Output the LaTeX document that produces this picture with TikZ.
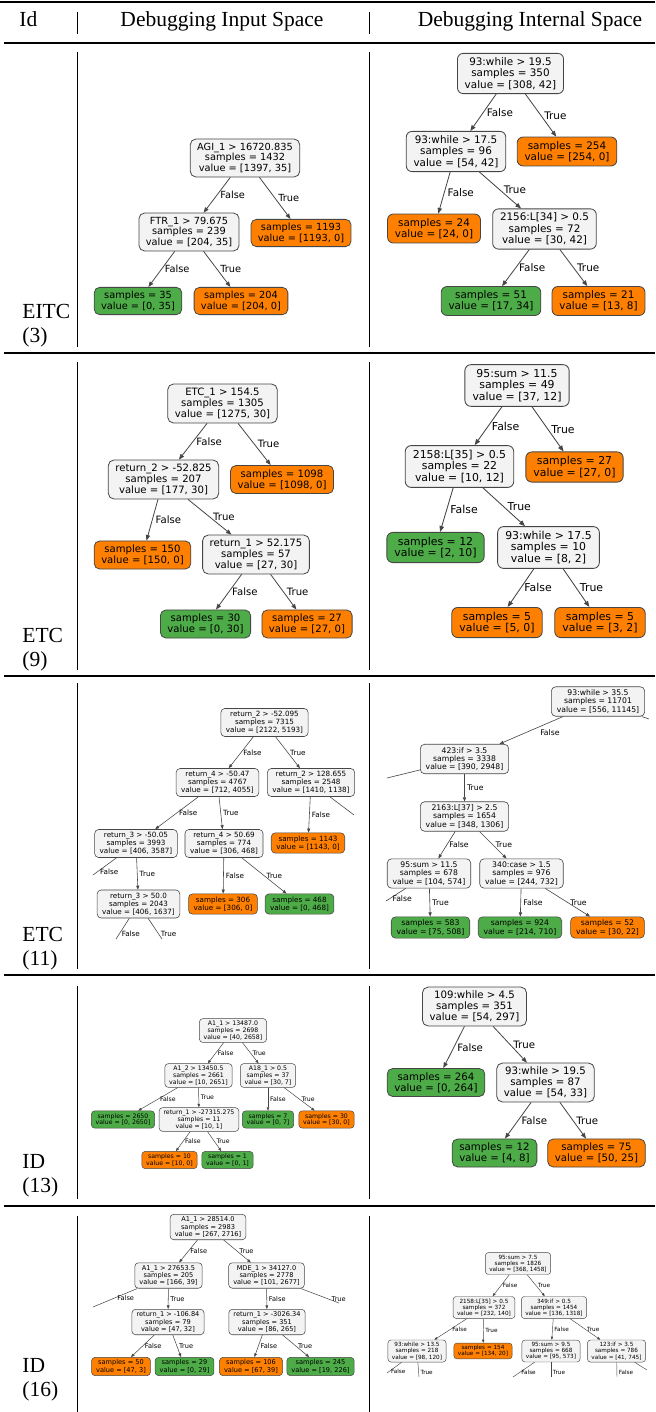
\documentclass[tikz,border=0pt]{standalone}
\usepackage{fontspec}
\setmainfont{Liberation Serif}
\newfontfamily\treefam{DejaVu Sans}
\usetikzlibrary{arrows.meta}
\definecolor{splitfill}{RGB}{243,243,243}
\definecolor{leaforange}{RGB}{255,128,0}
\definecolor{leafgreen}{RGB}{78,172,72}
\definecolor{boxline}{RGB}{70,70,70}
\newcommand\treefont[2]{\treefam\fontsize{#1}{#2}\selectfont}
\newcommand\cellfont{\fontsize{10.75}{12}\selectfont}
\tikzset{
  tree/.style 2 args={execute at begin scope={\treefont{#1}{#2}}},
  split/.style={draw=boxline, fill=splitfill, line width=0.08em, rounded corners=0.55em,
    align=center, inner xsep=0.7em, inner ysep=0.4em},
  leafo/.style={split, fill=leaforange},
  leafg/.style={split, fill=leafgreen},
  link/.style={draw=boxline, line width=0.08em, -{Triangle[length=0.55em, width=0.42em]}},
  cut/.style={draw=boxline, line width=0.08em},
  lbl/.style={anchor=west, inner sep=0.3em},
  rowid/.style={font=\cellfont, anchor=base west, align=left, inner sep=0pt},
  head/.style={font=\cellfont, anchor=base, inner sep=0pt},
  rule/.style={line width=0.55pt},
  bar/.style={line width=0.4pt}
}
\begin{document}
\begin{tikzpicture}[x=0.5pt, y=-0.5pt]
  \useasboundingbox (0,0) rectangle (655,1412);
  % table frame
  \draw[line width=1pt] (0,2) -- (655,2);
  \draw[rule] (4,43) -- (655,43);
  \foreach \y in {353,676,975,1206} \draw[rule] (4,\y) -- (655,\y);
  \foreach \x in {77,369} {
    \draw[bar] (\x,12) -- (\x,34);
    \draw[bar] (\x,52) -- (\x,347);
    \draw[bar] (\x,362) -- (\x,670);
    \draw[bar] (\x,683) -- (\x,969);
    \draw[bar] (\x,986) -- (\x,1199);
    \draw[bar] (\x,1216) -- (\x,1412);
  }
  \node[head, anchor=base west] (hid) at (19,27) {Id};
  \node[head] (hin) at (222,27) {Debugging Input Space};
  \node[head] (hint) at (530,27) {Debugging Internal Space};
  \node[rowid] (id1) at (22,342) {EITC\\(3)};
  \node[rowid] (id2) at (22,666) {ETC\\(9)};
  \node[rowid] (id3) at (22,965) {ETC\\(11)};
  \node[rowid] (id4) at (22,1192) {ID\\(13)};
  \node[rowid] (id5) at (22,1396) {ID\\(16)};

  % EITC (3), input space
  \begin{scope}[tree={4.9}{5.35}]
    \node[split] (a0) at (245,158) {AGI\_1 > 16720.835\\samples = 1432\\value = [1397, 35]};
    \node[split] (a1) at (189,232) {FTR\_1 > 79.675\\samples = 239\\value = [204, 35]};
    \node[leafo] (a2) at (301,233) {samples = 1193\\value = [1193, 0]};
    \node[leafg] (a3) at (138,301) {samples = 35\\value = [0, 35]};
    \node[leafo] (a4) at (241,301) {samples = 204\\value = [204, 0]};
    \draw[link] (a0) -- node[lbl] {False} (a1);
    \draw[link] (a0) -- node[lbl] {True} (a2);
    \draw[link] (a1) -- node[lbl] {False} (a3);
    \draw[link] (a1) -- node[lbl] {True} (a4);
  \end{scope}

  % EITC (3), internal space
  \begin{scope}[tree={5.2}{5.65}]
    \node[split] (b0) at (510.5,73.5) {93:while > 19.5\\samples = 350\\value = [308, 42]};
    \node[split] (b1) at (456,151.5) {93:while > 17.5\\samples = 96\\value = [54, 42]};
    \node[leafo] (b2) at (567,151.5) {samples = 254\\value = [254, 0]};
    \node[leafo] (b3) at (434,228.5) {samples = 24\\value = [24, 0]};
    \node[split] (b4) at (544.5,229) {2156:L[34] > 0.5\\samples = 72\\value = [30, 42]};
    \node[leafg] (b5) at (491,301) {samples = 51\\value = [17, 34]};
    \node[leafo] (b6) at (598.5,301) {samples = 21\\value = [13, 8]};
    \draw[link] (b0) -- node[lbl] {False} (b1);
    \draw[link] (b0) -- node[lbl] {True} (b2);
    \draw[link] (b1) -- node[lbl] {False} (b3);
    \draw[link] (b1) -- node[lbl] {True} (b4);
    \draw[link] (b4) -- node[lbl] {False} (b5);
    \draw[link] (b4) -- node[lbl] {True} (b6);
  \end{scope}

  % ETC (9), input space
  \begin{scope}[tree={5.05}{5.5}]
    \node[split] (c0) at (222.5,403.5) {ETC\_1 > 154.5\\samples = 1305\\value = [1275, 30]};
    \node[split] (c1) at (163.5,479.5) {return\_2 > -52.825\\samples = 207\\value = [177, 30]};
    \node[leafo] (c2) at (282,479.5) {samples = 1098\\value = [1098, 0]};
    \node[leafo] (c3) at (142.5,555) {samples = 150\\value = [150, 0]};
    \node[split] (c4) at (256,554.5) {return\_1 > 52.175\\samples = 57\\value = [27, 30]};
    \node[leafg] (c5) at (205.5,624) {samples = 30\\value = [0, 30]};
    \node[leafo] (c6) at (307,624) {samples = 27\\value = [27, 0]};
    \draw[link] (c0) -- node[lbl] {False} (c1);
    \draw[link] (c0) -- node[lbl] {True} (c2);
    \draw[link] (c1) -- node[lbl] {False} (c3);
    \draw[link] (c1) -- node[lbl] {True} (c4);
    \draw[link] (c4) -- node[lbl] {False} (c5);
    \draw[link] (c4) -- node[lbl] {True} (c6);
  \end{scope}

  % ETC (9), internal space
  \begin{scope}[tree={5.45}{5.85}]
    \node[split] (d0) at (517,385.5) {95:sum > 11.5\\samples = 49\\value = [37, 12]};
    \node[split] (d1) at (459.5,466.5) {2158:L[35] > 0.5\\samples = 22\\value = [10, 12]};
    \node[leafo] (d2) at (574.5,467) {samples = 27\\value = [27, 0]};
    \node[leafg] (d3) at (435.5,547.5) {samples = 12\\value = [2, 10]};
    \node[split] (d4) at (548.5,547.5) {93:while > 17.5\\samples = 10\\value = [8, 2]};
    \node[leafo] (d5) at (497,622.5) {samples = 5\\value = [5, 0]};
    \node[leafo] (d6) at (600,622.5) {samples = 5\\value = [3, 2]};
    \draw[link] (d0) -- node[lbl] {False} (d1);
    \draw[link] (d0) -- node[lbl] {True} (d2);
    \draw[link] (d1) -- node[lbl] {False} (d3);
    \draw[link] (d1) -- node[lbl] {True} (d4);
    \draw[link] (d4) -- node[lbl] {False} (d5);
    \draw[link] (d4) -- node[lbl] {True} (d6);
  \end{scope}

  % ETC (11), input space
  \begin{scope}[tree={3.6}{4.0}]
    \node[split] (e0) at (264.5,722.5) {return\_2 > -52.095\\samples = 7315\\value = [2122, 5193]};
    \node[split] (e1) at (217.5,782.5) {return\_4 > -50.47\\samples = 4767\\value = [712, 4055]};
    \node[split] (e2) at (311,782.5) {return\_2 > 128.655\\samples = 2548\\value = [1410, 1138]};
    \node[split] (e3) at (136,843.5) {return\_3 > -50.05\\samples = 3993\\value = [406, 3587]};
    \node[split] (e4) at (224,843.5) {return\_4 > 50.69\\samples = 774\\value = [306, 468]};
    \node[leafo] (e5) at (308,843) {samples = 1143\\value = [1143, 0]};
    \node[split] (e6) at (138.5,904) {return\_3 > 50.0\\samples = 2043\\value = [406, 1637]};
    \node[leafo] (e7) at (223,904) {samples = 306\\value = [306, 0]};
    \node[leafg] (e8) at (299.5,904) {samples = 468\\value = [0, 468]};
    \coordinate (ex1) at (354,815);
    \coordinate (ex2) at (93,875);
    \coordinate (ex3) at (116,939);
    \coordinate (ex4) at (162,939);
    \draw[link] (e0) -- node[lbl] {False} (e1);
    \draw[link] (e0) -- node[lbl] {True} (e2);
    \draw[link] (e1) -- node[lbl] {False} (e3);
    \draw[link] (e1) -- node[lbl] {True} (e4);
    \draw[link] (e2) -- node[lbl] {False} (e5);
    \draw[cut] (e2) -- (ex1);
    \draw[cut] (e3) -- node[lbl, pos=.8] {False} (ex2);
    \draw[link] (e3) -- node[lbl] {True} (e6);
    \draw[link] (e4) -- node[lbl] {False} (e7);
    \draw[link] (e4) -- node[lbl] {True} (e8);
    \draw[cut] (e6) -- node[lbl, pos=.75] {False} (ex3);
    \draw[cut] (e6) -- node[lbl, pos=.75] {True} (ex4);
  \end{scope}

  % ETC (11), internal space
  \begin{scope}[tree={3.85}{4.1}]
    \node[split] (f0) at (598,701.5) {93:while > 35.5\\samples = 11701\\value = [556, 11145]};
    \node[split] (f1) at (464.5,759) {423:if > 3.5\\samples = 3338\\value = [390, 2948]};
    \node[split] (f2) at (464.5,816.5) {2163:L[37] > 2.5\\samples = 1654\\value = [348, 1306]};
    \node[split] (f3) at (429,873.5) {95:sum > 11.5\\samples = 678\\value = [104, 574]};
    \node[split] (f4) at (521.5,873.5) {340:case > 1.5\\samples = 976\\value = [244, 732]};
    \node[leafg] (f5) at (430.5,927.5) {samples = 583\\value = [75, 508]};
    \node[leafg] (f6) at (520,927.5) {samples = 924\\value = [214, 710]};
    \node[leafo] (f7) at (607.5,927.5) {samples = 52\\value = [30, 22]};
    \coordinate (fx1) at (649,719);
    \coordinate (fx2) at (387,778);
    \coordinate (fx3) at (386,901);
    \draw[link] (f0) -- node[lbl, anchor=north west, pos=.4] {False} (f1);
    \draw[cut] (f0) -- (fx1);
    \draw[cut] (f1) -- (fx2);
    \draw[link] (f1) -- node[lbl] {True} (f2);
    \draw[link] (f2) -- node[lbl] {False} (f3);
    \draw[link] (f2) -- node[lbl] {True} (f4);
    \draw[cut] (f3) -- node[lbl, pos=.8] {False} (fx3);
    \draw[link] (f3) -- node[lbl] {True} (f5);
    \draw[link] (f4) -- node[lbl] {False} (f6);
    \draw[link] (f4) -- node[lbl] {True} (f7);
  \end{scope}

  % ID (13), input space
  \begin{scope}[tree={3.1}{3.35}]
    \node[split] (g0) at (233,1030.5) {A1\_1 > 13487.0\\samples = 2698\\value = [40, 2658]};
    \node[split] (g1) at (198.5,1075.5) {A1\_2 > 13450.5\\samples = 2661\\value = [10, 2651]};
    \node[split] (g2) at (268,1075.5) {A18\_1 > 0.5\\samples = 37\\value = [30, 7]};
    \node[leafg] (g3) at (123,1119.5) {samples = 2650\\value = [0, 2650]};
    \node[split] (g4) at (199,1119.5) {return\_1 > -27315.275\\samples = 11\\value = [10, 1]};
    \node[leafg] (g5) at (268,1119.5) {samples = 7\\value = [0, 7]};
    \node[leafo] (g6) at (326.5,1119.5) {samples = 30\\value = [30, 0]};
    \node[leafo] (g7) at (169.5,1160) {samples = 10\\value = [10, 0]};
    \node[leafg] (g8) at (227.5,1160) {samples = 1\\value = [0, 1]};
    \draw[link] (g0) -- node[lbl] {False} (g1);
    \draw[link] (g0) -- node[lbl] {True} (g2);
    \draw[link] (g1) -- node[lbl] {False} (g3);
    \draw[link] (g1) -- node[lbl] {True} (g4);
    \draw[link] (g2) -- node[lbl] {False} (g5);
    \draw[link] (g2) -- node[lbl] {True} (g6);
    \draw[link] (g4) -- node[lbl] {False} (g7);
    \draw[link] (g4) -- node[lbl] {True} (g8);
  \end{scope}

  % ID (13), internal space
  \begin{scope}[tree={5.1}{5.4}]
    \node[split] (h0) at (474.5,1006.5) {109:while > 4.5\\samples = 351\\value = [54, 297]};
    \node[leafg] (h1) at (436,1082.5) {samples = 264\\value = [0, 264]};
    \node[split] (h2) at (545.5,1082.5) {93:while > 19.5\\samples = 87\\value = [54, 33]};
    \node[leafg] (h3) at (494.5,1153) {samples = 12\\value = [4, 8]};
    \node[leafo] (h4) at (596.5,1153) {samples = 75\\value = [50, 25]};
    \draw[link] (h0) -- node[lbl] {False} (h1);
    \draw[link] (h0) -- node[lbl] {True} (h2);
    \draw[link] (h2) -- node[lbl] {False} (h3);
    \draw[link] (h2) -- node[lbl] {True} (h4);
  \end{scope}

  % ID (16), input space
  \begin{scope}[tree={3.3}{3.6}]
    \node[split] (i0) at (208,1227) {A1\_1 > 28514.0\\samples = 2983\\value = [267, 2716]};
    \node[split] (i1) at (168.5,1275.5) {A1\_1 > 27653.5\\samples = 205\\value = [166, 39]};
    \node[split] (i2) at (266.5,1275.5) {MDE\_1 > 34127.0\\samples = 2778\\value = [101, 2677]};
    \node[split] (i3) at (168,1322) {return\_1 > -106.84\\samples = 79\\value = [47, 32]};
    \node[split] (i4) at (267,1322) {return\_1 > -3026.34\\samples = 351\\value = [86, 265]};
    \node[leafo] (i5) at (121,1366.5) {samples = 50\\value = [47, 3]};
    \node[leafg] (i6) at (184.5,1366.5) {samples = 29\\value = [0, 29]};
    \node[leafo] (i7) at (251,1366.5) {samples = 106\\value = [67, 39]};
    \node[leafg] (i8) at (320.5,1366.5) {samples = 245\\value = [19, 226]};
    \coordinate (ix1) at (93,1307);
    \coordinate (ix2) at (339,1303);
    \draw[link] (i0) -- node[lbl] {False} (i1);
    \draw[link] (i0) -- node[lbl] {True} (i2);
    \draw[cut] (i1) -- node[lbl, pos=.5] {False} (ix1);
    \draw[link] (i1) -- node[lbl] {True} (i3);
    \draw[link] (i2) -- node[lbl] {False} (i4);
    \draw[cut] (i2) -- node[lbl, pos=.75] {True} (ix2);
    \draw[link] (i3) -- node[lbl] {False} (i5);
    \draw[link] (i3) -- node[lbl] {True} (i6);
    \draw[link] (i4) -- node[lbl] {False} (i7);
    \draw[link] (i4) -- node[lbl] {True} (i8);
  \end{scope}

  % ID (16), internal space
  \begin{scope}[tree={2.85}{3.1}]
    \node[split] (j0) at (518,1263.5) {95:sum > 7.5\\samples = 1826\\value = [368, 1458]};
    \node[split] (j1) at (484,1307.5) {2158:L[35] > 0.5\\samples = 372\\value = [232, 140]};
    \node[split] (j2) at (554,1307.5) {349:if > 0.5\\samples = 1454\\value = [136, 1318]};
    \node[split] (j3) at (417,1351) {93:while > 13.5\\samples = 218\\value = [98, 120]};
    \node[leafo] (j4) at (483,1351) {samples = 154\\value = [134, 20]};
    \node[split] (j5) at (551,1351) {95:sum > 9.5\\samples = 668\\value = [95, 573]};
    \node[split] (j6) at (616.5,1351) {123:if > 3.5\\samples = 786\\value = [41, 745]};
    \coordinate (jx1) at (387,1373);
    \coordinate (jx2) at (419,1377);
    \coordinate (jx3) at (513,1377);
    \coordinate (jx4) at (551,1377);
    \coordinate (jx5) at (617,1377);
    \coordinate (jx6) at (647,1370);
    \draw[link] (j0) -- node[lbl] {False} (j1);
    \draw[link] (j0) -- node[lbl] {True} (j2);
    \draw[link] (j1) -- node[lbl] {False} (j3);
    \draw[link] (j1) -- node[lbl] {True} (j4);
    \draw[link] (j2) -- node[lbl] {False} (j5);
    \draw[link] (j2) -- node[lbl] {True} (j6);
    \draw[cut] (j3) -- node[lbl, pos=.85] {False} (jx1);
    \draw[cut] (j3) -- node[lbl, pos=.7] {True} (jx2);
    \draw[cut] (j5) -- node[lbl, pos=.7] {False} (jx3);
    \draw[cut] (j5) -- node[lbl, pos=.7] {True} (jx4);
    \draw[cut] (j6) -- node[lbl, pos=.7] {False} (jx5);
    \draw[cut] (j6) -- (jx6);
  \end{scope}
\end{tikzpicture}
\end{document}
